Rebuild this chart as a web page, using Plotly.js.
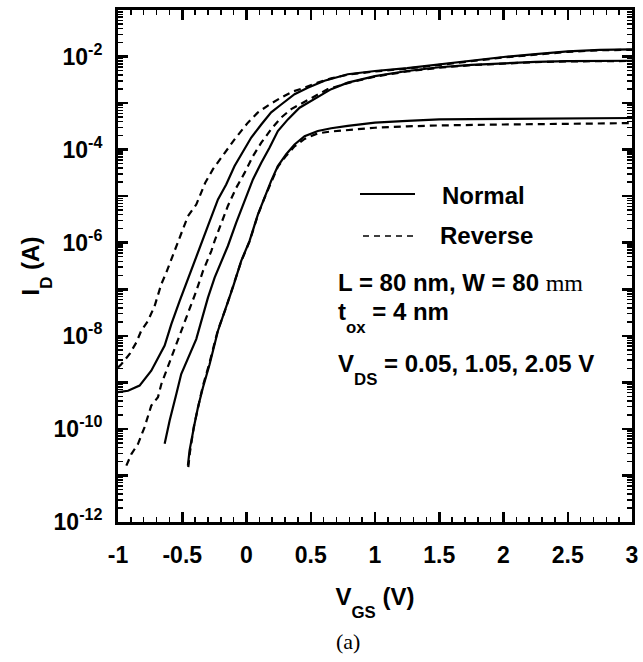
<!DOCTYPE html>
<html>
<head>
<meta charset="utf-8">
<script src="https://cdn.plot.ly/plotly-3.0.1.min.js"></script>
<style>html,body{margin:0;padding:0;background:#fff;}#chart{width:643px;height:662px;}</style>
</head>
<body>
<div id="chart"></div>
<script>
// ---- Data (VGS in V, log10 of ID in A) ----
const vgsNormal205 = [-1.0, -0.922, -0.832, -0.741, -0.637, -0.585, -0.520, -0.456, -0.391, -0.339, -0.300, -0.222, -0.158, -0.093, -0.028, 0.037, 0.115, 0.192, 0.270, 0.374, 0.477, 0.607, 0.788, 1.0, 1.25, 1.5, 1.75, 2.0, 2.25, 2.5, 2.75, 3.0];
const logIdNormal205 = [-9.21, -9.18, -9.07, -8.75, -8.21, -7.75, -7.25, -6.79, -6.32, -5.96, -5.64, -5.07, -4.75, -4.35, -4.03, -3.74, -3.46, -3.20, -3.03, -2.81, -2.67, -2.52, -2.38, -2.31, -2.25, -2.17, -2.09, -2.01, -1.95, -1.89, -1.855, -1.845];

const vgsReverse205 = [-1.0, -0.974, -0.909, -0.857, -0.819, -0.767, -0.715, -0.663, -0.624, -0.559, -0.533, -0.456, -0.391, -0.321, -0.261, -0.196, -0.093, 0.011, 0.089, 0.179, 0.270, 0.361, 0.452, 0.555, 0.659, 0.788, 1.0, 1.25, 1.5, 1.75, 2.0, 2.25, 2.5, 2.75, 3.0];
const logIdReverse205 = [-8.68, -8.61, -8.39, -8.14, -7.89, -7.68, -7.36, -6.89, -6.64, -6.18, -5.96, -5.43, -5.18, -4.71, -4.42, -4.17, -3.78, -3.42, -3.20, -3.03, -2.88, -2.75, -2.67, -2.56, -2.47, -2.39, -2.32, -2.26, -2.18, -2.10, -2.02, -1.96, -1.90, -1.865, -1.855];

const vgsNormal105 = [-0.637, -0.598, -0.546, -0.508, -0.391, -0.352, -0.300, -0.248, -0.196, -0.145, -0.080, -0.015, 0.050, 0.115, 0.179, 0.244, 0.322, 0.413, 0.529, 0.659, 0.788, 1.0, 1.25, 1.5, 1.75, 2.0, 2.25, 2.5, 3.0];
const logIdNormal105 = [-10.32, -9.82, -9.25, -8.82, -8.07, -7.68, -7.18, -6.75, -6.39, -6.07, -5.57, -5.10, -4.64, -4.28, -3.96, -3.60, -3.35, -3.10, -2.92, -2.70, -2.56, -2.42, -2.31, -2.23, -2.18, -2.14, -2.115, -2.10, -2.09];

const vgsReverse105 = [-0.935, -0.896, -0.844, -0.793, -0.741, -0.689, -0.663, -0.585, -0.520, -0.456, -0.391, -0.339, -0.274, -0.248, -0.196, -0.145, -0.080, -0.015, 0.050, 0.115, 0.192, 0.270, 0.348, 0.439, 0.529, 0.633, 0.788, 1.0, 1.25, 1.5, 1.75, 2.0, 2.25, 2.5, 3.0];
const logIdReverse105 = [-10.79, -10.54, -10.32, -9.96, -9.50, -9.32, -9.04, -8.46, -8.00, -7.54, -7.04, -6.61, -6.18, -5.96, -5.57, -5.21, -4.82, -4.50, -4.14, -3.85, -3.56, -3.31, -3.13, -2.99, -2.85, -2.70, -2.57, -2.43, -2.32, -2.24, -2.185, -2.145, -2.12, -2.105, -2.095];

const vgsNormal005 = [-0.456, -0.443, -0.404, -0.378, -0.339, -0.287, -0.222, -0.158, -0.106, -0.041, 0.024, 0.089, 0.140, 0.192, 0.244, 0.309, 0.374, 0.452, 0.555, 0.659, 0.788, 1.0, 1.25, 1.5, 2.0, 2.5, 3.0];
const logIdNormal005 = [-10.79, -10.46, -9.89, -9.54, -9.11, -8.61, -7.89, -7.39, -6.96, -6.39, -5.96, -5.39, -5.03, -4.67, -4.35, -4.10, -3.89, -3.71, -3.60, -3.54, -3.49, -3.42, -3.38, -3.35, -3.34, -3.33, -3.32];

const vgsReverse005 = [-0.453, -0.440, -0.410, -0.380, -0.340, -0.290, -0.225, -0.160, -0.106, -0.041, 0.024, 0.089, 0.140, 0.192, 0.244, 0.309, 0.374, 0.452, 0.555, 0.659, 0.788, 1.0, 1.25, 1.5, 2.0, 2.5, 3.0];
const logIdReverse005 = [-10.82, -10.50, -9.95, -9.55, -9.08, -8.60, -7.90, -7.40, -6.95, -6.40, -5.97, -5.40, -5.04, -4.69, -4.37, -4.13, -3.93, -3.77, -3.65, -3.61, -3.58, -3.53, -3.50, -3.48, -3.46, -3.44, -3.43];

// ---- Tick labels ----
const vgsTickVals = [-1, -0.5, 0, 0.5, 1, 1.5, 2, 2.5, 3];
const vgsTickText = ['-1', '-0.5', '0', '0.5', '1', '1.5', '2', '2.5', '3'];
const idDecades = [-12, -11, -10, -9, -8, -7, -6, -5, -4, -3, -2, -1];
const idLabelledDecades = [-12, -10, -8, -6, -4, -2];

const legendNames = ['Normal', 'Reverse'];
const SUBSHIFT = '<span style="baseline-shift:-0.45em">';
const annotationLines = [
  'L = 80 nm, W = 80 <span style="font-family:\'Liberation Serif\',serif;font-weight:normal">mm</span>',
  't<sub>' + SUBSHIFT + 'ox</span></sub> = 4 nm',
  'V<sub>' + SUBSHIFT + 'DS</span></sub> = 0.05, 1.05, 2.05 V'
];
const xTitle = 'V<sub>' + SUBSHIFT + 'GS</span></sub> (V)';
const yTitle = 'I<sub>' + SUBSHIFT + 'D</span></sub> (A)';
const panelLabel = '(a)';

// ---- Build chart ----
const SANS = '"Liberation Sans", Arial, Helvetica, sans-serif';
const toAmp = arr => arr.map(v => Math.pow(10, v));

function curve(x, logy, dashed, xaxisId, yaxisId) {
  return {
    x: x, y: toAmp(logy), type: 'scatter', mode: 'lines', showlegend: false,
    xaxis: xaxisId || 'x', yaxis: yaxisId || 'y',
    line: {color: '#000', width: 2.2, dash: dashed ? '7px,5px' : 'solid'},
    hoverinfo: 'skip'
  };
}

const traces = [
  curve(vgsNormal205, logIdNormal205, false),
  curve(vgsReverse205, logIdReverse205, true),
  curve(vgsNormal105, logIdNormal105, false),
  curve(vgsReverse105, logIdReverse105, true),
  curve(vgsNormal005, logIdNormal005, false),
  curve(vgsReverse005, logIdReverse005, true, 'x2', 'y2')
];

const evenTickVals = idLabelledDecades.map(e => Math.pow(10, e));
const evenTickText = idLabelledDecades.map(e => '10<sup>' + e + '</sup>');
const allDecadeVals = idDecades.map(e => Math.pow(10, e));
const yMinor = [];
idDecades.slice(0, -1).forEach(e => { for (let k = 2; k <= 9; k++) yMinor.push(k * Math.pow(10, e)); });
const xMinor = [];
for (let i = 0; i <= 40; i++) xMinor.push(Math.round((-1 + i * 0.1) * 10) / 10);

const tickFont = {family: SANS, size: 23, color: '#000', weight: 700};
const titleFont = {family: SANS, size: 24, color: '#000', weight: 700};
const annFont = {family: SANS, size: 24, color: '#000', weight: 700};

const pxX = p => (p - 118) / 514;
const pxY = p => (522 - p) / 512;

const minorY = {tickmode: 'array', tickvals: yMinor, ticks: 'inside', ticklen: 5, tickwidth: 1.5, tickcolor: '#000', showgrid: false};
const minorX = {tickmode: 'array', tickvals: xMinor, ticks: 'inside', ticklen: 5, tickwidth: 1.5, tickcolor: '#000', showgrid: false};

const layout = {
  width: 643, height: 662,
  margin: {l: 118, r: 11, t: 10, b: 140},
  paper_bgcolor: '#fff', plot_bgcolor: '#fff',
  showlegend: false,
  xaxis: {
    range: [-1, 3], tickmode: 'array', tickvals: vgsTickVals, ticktext: vgsTickText,
    ticks: 'inside', ticklen: 10, tickwidth: 2.5, tickcolor: '#000',
    showline: true, linewidth: 3, linecolor: '#000', mirror: 'ticks',
    showgrid: false, zeroline: false, tickfont: tickFont, ticklabelstandoff: 10,
    minor: minorX,
    title: {text: xTitle, font: titleFont, standoff: 22},
    automargin: false
  },
  xaxis2: {
    range: [-1, 3], overlaying: 'x', side: 'top', anchor: 'y2',
    tickmode: 'array', tickvals: vgsTickVals, showticklabels: false,
    ticks: 'inside', ticklen: 10, tickwidth: 2.5, tickcolor: '#000',
    showline: true, linewidth: 3, linecolor: '#000',
    showgrid: false, zeroline: false, minor: minorX,
    automargin: false
  },
  yaxis: {
    type: 'log', range: [-12, -1], tickmode: 'array', tickvals: evenTickVals, ticktext: evenTickText,
    ticks: 'inside', ticklen: 10, tickwidth: 2.5, tickcolor: '#000',
    showline: true, linewidth: 3, linecolor: '#000', mirror: 'ticks',
    showgrid: false, zeroline: false, tickfont: tickFont, ticklabelstandoff: 8,
    minor: minorY,
    title: {text: yTitle, font: titleFont, standoff: 8},
    automargin: false
  },
  yaxis2: {
    type: 'log', range: [-12, -1], overlaying: 'y', side: 'right', anchor: 'x2',
    tickmode: 'array', tickvals: allDecadeVals, showticklabels: false,
    ticks: 'inside', ticklen: 10, tickwidth: 2.5, tickcolor: '#000',
    showline: true, linewidth: 3, linecolor: '#000', mirror: 'ticks',
    showgrid: false, zeroline: false,
    minor: minorY,
    automargin: false
  },
  shapes: [
    {type: 'line', xref: 'paper', yref: 'paper', x0: pxX(360), x1: pxX(415), y0: pxY(194), y1: pxY(194), line: {color: '#000', width: 2}},
    {type: 'line', xref: 'paper', yref: 'paper', x0: pxX(363), x1: pxX(415), y0: pxY(236), y1: pxY(236), line: {color: '#000', width: 1.5, dash: '6px,5px'}}
  ],
  annotations: [
    {text: legendNames[0], xref: 'paper', yref: 'paper', x: pxX(440), y: pxY(195), xanchor: 'left', yanchor: 'middle', showarrow: false, font: annFont},
    {text: legendNames[1], xref: 'paper', yref: 'paper', x: pxX(438), y: pxY(235), xanchor: 'left', yanchor: 'middle', showarrow: false, font: annFont},
    {text: annotationLines[0], xref: 'paper', yref: 'paper', x: pxX(336), y: pxY(282), xanchor: 'left', yanchor: 'middle', showarrow: false, font: annFont},
    {text: annotationLines[1], xref: 'paper', yref: 'paper', x: pxX(336), y: pxY(317), xanchor: 'left', yanchor: 'middle', showarrow: false, font: annFont},
    {text: annotationLines[2], xref: 'paper', yref: 'paper', x: pxX(336), y: pxY(369), xanchor: 'left', yanchor: 'middle', showarrow: false, font: annFont},
    {text: panelLabel, xref: 'paper', yref: 'paper', x: pxX(334), y: pxY(641), xanchor: 'left', yanchor: 'middle', showarrow: false, font: {family: '"Liberation Serif", "Times New Roman", serif', size: 22, color: '#000'}}
  ]
};

Plotly.newPlot('chart', traces, layout, {staticPlot: true, displayModeBar: false});
</script>
</body>
</html>
